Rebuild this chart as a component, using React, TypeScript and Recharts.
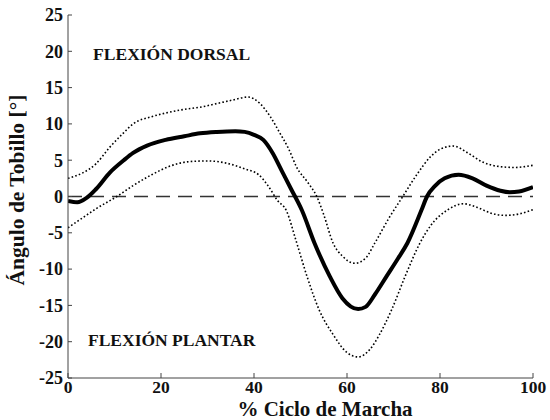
import React from 'react';
import { LineChart, Line, XAxis, YAxis, ReferenceLine, ReferenceDot } from 'recharts';

// Gait cycle (%) and ankle angle (degrees): mean curve and ±SD bands
const meanX = [0, 2, 4, 6, 9, 12, 14, 17, 21, 25, 28.4, 32, 36, 38, 40, 42, 44, 46, 48, 50.3, 53, 56.3, 59, 62.4, 64, 66, 68.5, 71, 73, 76, 77.2, 79, 81, 84, 87, 90, 93, 95, 97, 100];
const meanY = [-0.6, -0.8, -0.2, 1, 3.3, 5, 6, 7, 7.8, 8.3, 8.7, 8.9, 9, 8.9, 8.5, 7.8, 6, 3.5, 1, -1.9, -6.4, -11, -14, -15.5, -15.2, -13.5, -11, -8.5, -6.4, -1.9, 0, 1.5, 2.5, 3, 2.5, 1.5, 0.8, 0.6, 0.7, 1.3];

const upperX = [0, 3, 6, 9, 12, 14, 18, 21, 25, 28.4, 32, 35.5, 38.7, 41.3, 43.5, 45.6, 47.5, 49.2, 51.5, 53.5, 55, 57, 59, 61.7, 64, 66, 69, 72, 75, 78, 80, 82.8, 86, 89, 92, 96, 100];
const upperY = [2.5, 3.2, 4.5, 6.8, 8.8, 10, 11, 11.5, 12, 12.3, 12.8, 13.3, 13.7, 12.8, 11, 8.7, 6.5, 4, 2, 0, -2.5, -6.4, -8.2, -9.2, -8.5, -6.4, -3, 0, 3, 5.5, 6.5, 6.95, 6, 4.8, 4.2, 4, 4.3];

const lowerX = [0, 3, 6, 10.5, 14, 18, 22, 26, 30, 34, 38, 41, 43, 45, 47, 49, 51.4, 54, 57, 60, 62.4, 65, 67, 69.6, 72.5, 75.7, 78, 81.5, 85, 88, 91, 94, 97, 100];
const lowerY = [-4.3, -3, -1.7, 0, 1.5, 3, 4.2, 4.8, 4.9, 4.6, 3.8, 3, 1.5, -0.5, -2, -6, -11, -15.6, -19, -21.5, -22.1, -21, -19, -15.6, -11, -6.4, -4, -1.9, -1, -1.5, -2.3, -2.6, -2.4, -1.8];

const xTicks = [0, 20, 40, 60, 80, 100];
const yTicks = [-25, -20, -15, -10, -5, 0, 5, 10, 15, 20, 25];

const xTitle = '% Ciclo de Marcha';
const yTitle = 'Ángulo de Tobillo [°]';
const dorsalText = 'FLEXIÓN DORSAL';
const plantarText = 'FLEXIÓN PLANTAR';

const zip = (xs: number[], ys: number[]) => xs.map((x, i) => ({ x, y: ys[i] }));
const meanData = zip(meanX, meanY);
const upperData = zip(upperX, upperY);
const lowerData = zip(lowerX, lowerY);

const FONT = 'Liberation Serif';
const textStyle = { fontFamily: FONT, fontWeight: 700 } as const;

const noteShape = (text: string) => (p: any) => (
  <text
    x={p.cx}
    y={p.cy}
    dominantBaseline="central"
    style={{ ...textStyle, fontSize: 17.5 }}
    fill="#111"
  >
    {text}
  </text>
);

export default function App() {
  return (
    <div style={{ position: 'absolute', left: 0, top: 0, width: 550, height: 420, background: '#fff', fontFamily: FONT }}>
      <LineChart width={550} height={420} margin={{ top: 15, right: 17, bottom: 12, left: 8 }} style={{ fontFamily: FONT }}>
        <XAxis
          dataKey="x"
          type="number"
          domain={[0, 100]}
          ticks={xTicks}
          allowDataOverflow
          height={30}
          tickSize={-5}
          tickMargin={8}
          stroke="#444"
          tick={{ fill: '#111', style: { ...textStyle, fontSize: 17.5 } }}
          label={{
            content: () => (
              <text x={325} y={416} textAnchor="middle" style={{ ...textStyle, fontSize: 21 }} fill="#111">
                {xTitle}
              </text>
            ),
          }}
        />
        <YAxis
          type="number"
          domain={[-25, 25]}
          ticks={yTicks}
          allowDataOverflow
          width={60}
          tickSize={-4}
          tickMargin={9}
          stroke="#444"
          tick={{ fill: '#111', style: { ...textStyle, fontSize: 18 } }}
          label={{
            content: () => (
              <text
                transform="translate(17,190) rotate(-90)"
                textAnchor="middle"
                dominantBaseline="central"
                style={{ ...textStyle, fontSize: 21.5 }}
                fill="#111"
              >
                {yTitle}
              </text>
            ),
          }}
        />
        <ReferenceLine y={0} stroke="#333" strokeWidth={1.3} strokeDasharray="14 8" />
        <ReferenceDot x={5.4} y={19.6} r={1} shape={noteShape(dorsalText)} />
        <ReferenceDot x={4.3} y={-19.8} r={1} shape={noteShape(plantarText)} />
        <Line
          data={upperData}
          dataKey="y"
          type="monotone"
          stroke="#000"
          strokeWidth={1.6}
          strokeDasharray="1.6 2.2"
          dot={false}
          isAnimationActive={false}
        />
        <Line
          data={lowerData}
          dataKey="y"
          type="monotone"
          stroke="#000"
          strokeWidth={1.6}
          strokeDasharray="1.6 2.2"
          dot={false}
          isAnimationActive={false}
        />
        <Line
          data={meanData}
          dataKey="y"
          type="monotone"
          stroke="#000"
          strokeWidth={4}
          dot={false}
          isAnimationActive={false}
        />
      </LineChart>
    </div>
  );
}
